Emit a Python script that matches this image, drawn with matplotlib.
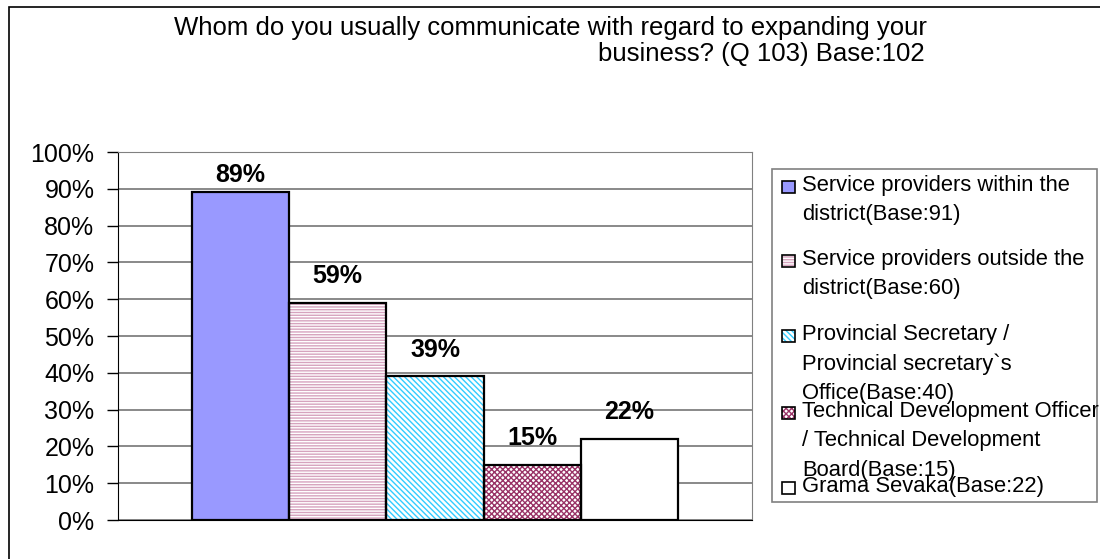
import matplotlib
matplotlib.use('Agg')
import matplotlib.pyplot as plt
from matplotlib.patches import Rectangle
from matplotlib.ticker import PercentFormatter

plt.rcParams['font.family'] = ['Liberation Sans', 'DejaVu Sans']
plt.rcParams['hatch.linewidth'] = 1.0

# Respuestas (% sobre base 102)
etiquetas = ['Service providers within the\ndistrict(Base:91)',
             'Service providers outside the\ndistrict(Base:60)',
             'Provincial Secretary /\nProvincial secretary`s\nOffice(Base:40)',
             'Technical Development Officer\n/ Technical Development\nBoard(Base:15)',
             'Grama Sevaka(Base:22)']
valores = [89, 59, 39, 15, 22]

# relleno, color de trama, trama
rellenos = ['#9999FF', 'white', 'white', 'white', 'white']
tramas_color = ['#9999FF', '#D6A3BE', '#33CCFF', '#993366', 'white']
tramas = ['', '------', '\\\\\\\\\\\\', 'xxxxxx', '']

W, H = 1100, 559
fig = plt.figure(figsize=(W / 100, H / 100), dpi=100)

def fx(px): return px / W
def fy(py): return 1 - py / H

ax = fig.add_axes([fx(118), fy(520), fx(752) - fx(118), fy(152) - fy(520)])

x = list(range(len(valores)))
ax.bar(x, valores, width=1, color=rellenos, edgecolor=tramas_color,
       hatch=tramas, linewidth=0, zorder=2)
ax.bar(x, valores, width=1, fill=False, edgecolor='black', linewidth=1.6, zorder=3)

for xi, v in zip(x, valores):
    ax.text(xi, min(v + 7.3, 93.8), '%d%%' % v, ha='center', va='center',
            fontsize=18, fontweight='bold')

ax.set_ylim(0, 100)
ax.set_xlim(-1.26, 5.26)
ax.set_yticks(range(0, 101, 10))
ax.yaxis.set_major_formatter(PercentFormatter(decimals=0))
ax.set_xticks([])
ax.tick_params(axis='y', direction='out', length=8, width=1, labelsize=18, pad=9)
ax.grid(axis='y', color='#808080', linewidth=1.3, zorder=0)
for lado in ['top', 'right']:
    ax.spines[lado].set_color('#808080')
for lado in ['left', 'bottom']:
    ax.spines[lado].set_color('black')

# Titulo en dos lineas
fig.text(fx(550), fy(28), 'Whom do you usually communicate with regard to expanding your',
         ha='center', va='center', fontsize=18.5)
fig.text(fx(925), fy(54), 'business? (Q 103) Base:102', ha='right', va='center', fontsize=18.5)

# Leyenda
fig.add_artist(Rectangle((fx(772), fy(502)), fx(1097) - fx(772), fy(169) - fy(502),
                         transform=fig.transFigure, facecolor='white',
                         edgecolor='#808080', linewidth=1.2))
y_centros = [187, 261, 336, 413, 488]
for lab, yc, f, hc, h in zip(etiquetas, y_centros, rellenos, tramas_color, tramas):
    caja = (fx(782), fy(yc + 6)), fx(795) - fx(782), fy(yc - 6) - fy(yc + 6)
    fig.add_artist(Rectangle(*caja, transform=fig.transFigure, facecolor=f,
                             edgecolor=hc, hatch=h, linewidth=0))
    fig.add_artist(Rectangle(*caja, transform=fig.transFigure, fill=False,
                             edgecolor='black', linewidth=1.2))
    fig.text(fx(802), fy(yc - 12), lab, ha='left', va='top', fontsize=15.8,
             linespacing=1.52)

# Marco exterior
fig.add_artist(Rectangle((fx(9), fy(600)), 1.2, fy(7) - fy(600),
                         transform=fig.transFigure, fill=False,
                         edgecolor='black', linewidth=1.2))

fig.savefig('out.png', dpi=100)
